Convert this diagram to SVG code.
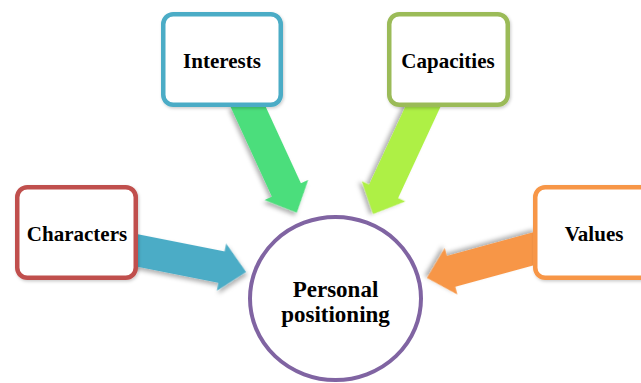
<svg xmlns="http://www.w3.org/2000/svg" width="641" height="383" viewBox="0 0 641 383">
<style>
.box{fill:#ffffff;stroke-width:4.5}
.lbl{font-family:"Liberation Serif","Times New Roman",serif;font-weight:bold;font-size:21px;fill:#000;text-anchor:middle}
.big{font-size:23px}
.arr{filter:url(#sh)}
</style>
<defs>
<filter id="sh" x="-30%" y="-30%" width="160%" height="160%">
<feDropShadow dx="2" dy="3" stdDeviation="2" flood-color="#000" flood-opacity="0.3"/>
</filter>
<filter id="bs" x="-10%" y="-10%" width="120%" height="120%">
<feDropShadow dx="1" dy="1.5" stdDeviation="1.5" flood-color="#000" flood-opacity="0.2"/>
</filter>
</defs>
<rect width="641" height="383" fill="#ffffff"/>
<g id="connectors">
<path class="arr" fill="#4CDE7B" transform="translate(245,100) rotate(65.3)" d="M0,-16 L99,-16 L99,-24 L124,0 L99,24 L99,16 L0,16 Z"/>
<path class="arr" fill="#AEF045" transform="translate(426,100) rotate(114.9)" d="M0,-16 L100.7,-16 L100.7,-24 L125.7,0 L100.7,24 L100.7,16 L0,16 Z"/>
<path class="arr" fill="#4BACC6" transform="translate(130,249) rotate(11.2)" d="M0,-16 L93.3,-16 L93.3,-24 L118.3,0 L93.3,24 L93.3,16 L0,16 Z"/>
<path class="arr" fill="#F79646" transform="translate(540,247) rotate(164.7)" d="M0,-16 L92.2,-16 L92.2,-24 L117.2,0 L92.2,24 L92.2,16 L0,16 Z"/>
</g>
<g id="interests">
<rect class="box" filter="url(#bs)" x="163.25" y="14.25" width="117.5" height="90.5" rx="10" stroke="#4BACC6"/>
<text class="lbl" x="222" y="68">Interests</text>
</g>
<g id="capacities">
<rect class="box" filter="url(#bs)" x="389.25" y="14.25" width="118.5" height="90.5" rx="10" stroke="#9BBB59"/>
<text class="lbl" x="448" y="68">Capacities</text>
</g>
<g id="characters">
<rect class="box" filter="url(#bs)" x="17.25" y="187.25" width="118.5" height="90.5" rx="10" stroke="#C0504D"/>
<text class="lbl" x="77" y="241">Characters</text>
</g>
<g id="values">
<rect class="box" filter="url(#bs)" x="535.25" y="187.25" width="118.5" height="90.5" rx="10" stroke="#F79646"/>
<text class="lbl" x="594" y="241">Values</text>
</g>
<g id="personal-positioning">
<ellipse cx="335.5" cy="298.5" rx="85.5" ry="81.5" fill="#ffffff" stroke="#8064A2" stroke-width="4"/>
<text class="lbl big" x="335.5" y="297">Personal</text>
<text class="lbl big" x="335.5" y="322">positioning</text>
</g>
</svg>
